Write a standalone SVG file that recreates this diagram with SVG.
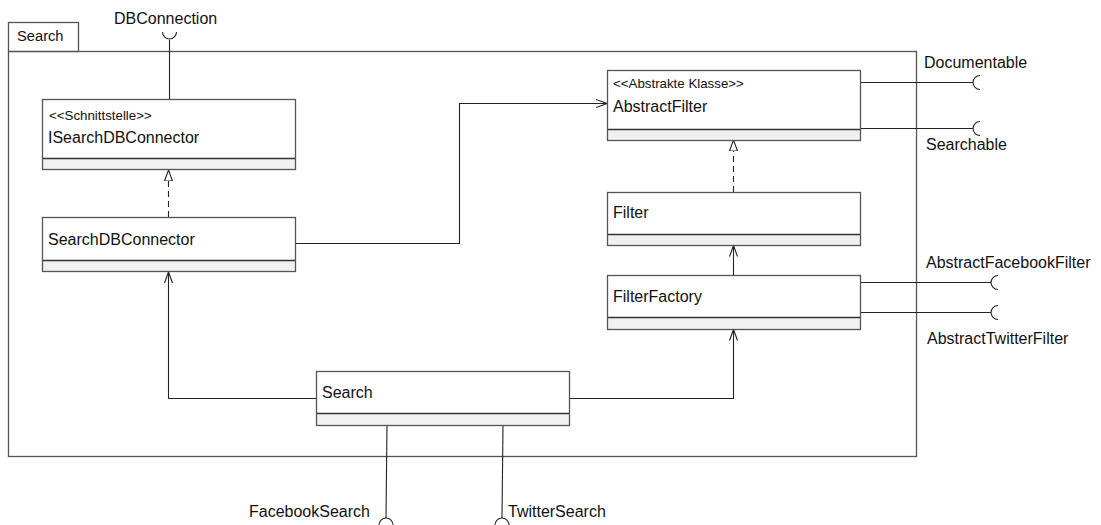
<svg xmlns="http://www.w3.org/2000/svg" width="1101" height="525" viewBox="0 0 1101 525">
<style>
text{font-family:"Liberation Sans",Arial,sans-serif;fill:#111}
.n{font-size:16px}
.s{font-size:13.3px}
.t{font-size:14.7px}
.top{fill:#fff;stroke:none}
.bot{fill:#f0f0f0;stroke:none}
.frame{fill:none;stroke:#555;stroke-width:1.3}
.sep{stroke:#333;stroke-width:1.3}
.c{fill:none;stroke:#222;stroke-width:1.1}
.d{fill:none;stroke:#222;stroke-width:1.1;stroke-dasharray:6 4}
</style>
<defs>
<marker id="open" markerWidth="12" markerHeight="12" refX="11" refY="6" orient="auto" markerUnits="userSpaceOnUse">
<path d="M0,2 L11,6 L0,10" fill="none" stroke="#222" stroke-width="1.1"/>
</marker>
<marker id="tri" markerWidth="13" markerHeight="12" refX="11" refY="6" orient="auto" markerUnits="userSpaceOnUse">
<path d="M0,2 L11,6 L0,10 Z" fill="#fff" stroke="#222" stroke-width="1.1"/>
</marker>
</defs>
<rect width="1101" height="525" fill="#fff"/>

<g id="package">
<rect x="8.5" y="22.5" width="70" height="29" fill="#fff" stroke="#555" stroke-width="1.3"/>
<rect x="8.5" y="51.5" width="908" height="405" fill="none" stroke="#555" stroke-width="1.3"/>
<text class="t" x="17" y="41">Search</text>
</g>

<g id="connectors">
<!-- DBConnection -->
<line class="c" x1="169.5" y1="40" x2="169.5" y2="99"/>
<path class="c" d="M162.5,32 A7,7 0 0 0 176.5,32"/>
<!-- realization SearchDBConnector -> ISearchDBConnector -->
<line class="d" x1="168.5" y1="217" x2="168.5" y2="170" marker-end="url(#tri)"/>
<!-- SearchDBConnector -> AbstractFilter -->
<polyline class="c" points="295,243.5 459.5,243.5 459.5,103.5 607,103.5" marker-end="url(#open)"/>
<!-- Filter -> AbstractFilter realization -->
<line class="d" x1="733.5" y1="192" x2="733.5" y2="140" marker-end="url(#tri)"/>
<!-- FilterFactory -> Filter -->
<line class="c" x1="733.5" y1="275" x2="733.5" y2="245.5" marker-end="url(#open)"/>
<!-- Search -> SearchDBConnector -->
<polyline class="c" points="316,398.5 168.5,398.5 168.5,272" marker-end="url(#open)"/>
<!-- Search -> FilterFactory -->
<polyline class="c" points="569,398.5 733.5,398.5 733.5,329.5" marker-end="url(#open)"/>
<!-- Documentable / Searchable -->
<line class="c" x1="860" y1="82.5" x2="973" y2="82.5"/>
<path class="c" d="M980,75.5 A7,7 0 0 0 980,89.5"/>
<line class="c" x1="860" y1="128.5" x2="973" y2="128.5"/>
<path class="c" d="M980,121.5 A7,7 0 0 0 980,135.5"/>
<!-- AbstractFacebookFilter / AbstractTwitterFilter -->
<line class="c" x1="860" y1="282.5" x2="991" y2="282.5"/>
<path class="c" d="M998,275.5 A7,7 0 0 0 998,289.5"/>
<line class="c" x1="860" y1="312.5" x2="991" y2="312.5"/>
<path class="c" d="M998,305.5 A7,7 0 0 0 998,319.5"/>
<!-- FacebookSearch / TwitterSearch -->
<line class="c" x1="387" y1="425" x2="386" y2="518"/>
<path class="c" d="M379,525 A7,7 0 0 1 393,525"/>
<line class="c" x1="503" y1="425" x2="502" y2="518"/>
<path class="c" d="M495,525 A7,7 0 0 1 509,525"/>
</g>

<g id="labels">
<text class="n" x="114" y="24">DBConnection</text>
<text class="n" x="924" y="68">Documentable</text>
<text class="n" x="926" y="150">Searchable</text>
<text class="n" x="926" y="268">AbstractFacebookFilter</text>
<text class="n" x="927" y="344">AbstractTwitterFilter</text>
<text class="n" x="249" y="517">FacebookSearch</text>
<text class="n" x="508" y="517">TwitterSearch</text>
</g>

<g id="ISearchDBConnector">
<rect class="top" x="42.5" y="99.5" width="253" height="59"/>
<rect class="bot" x="42.5" y="158.5" width="253" height="11"/>
<line class="sep" x1="42.5" y1="158.5" x2="295.5" y2="158.5"/>
<rect class="frame" x="42.5" y="99.5" width="253" height="70"/>
<text class="s" x="49" y="120">&lt;&lt;Schnittstelle&gt;&gt;</text>
<text class="n" x="48" y="143">ISearchDBConnector</text>
</g>

<g id="SearchDBConnector">
<rect class="top" x="42.5" y="217.5" width="253" height="43"/>
<rect class="bot" x="42.5" y="260.5" width="253" height="11"/>
<line class="sep" x1="42.5" y1="260.5" x2="295.5" y2="260.5"/>
<rect class="frame" x="42.5" y="217.5" width="253" height="54"/>
<text class="n" x="48" y="245">SearchDBConnector</text>
</g>

<g id="AbstractFilter">
<rect class="top" x="607.5" y="70.5" width="253" height="59"/>
<rect class="bot" x="607.5" y="129.5" width="253" height="11"/>
<line class="sep" x1="607.5" y1="129.5" x2="860.5" y2="129.5"/>
<rect class="frame" x="607.5" y="70.5" width="253" height="70"/>
<text class="s" x="613" y="88">&lt;&lt;Abstrakte Klasse&gt;&gt;</text>
<text class="n" x="613" y="112">AbstractFilter</text>
</g>

<g id="Filter">
<rect class="top" x="607.5" y="192.5" width="253" height="42"/>
<rect class="bot" x="607.5" y="234.5" width="253" height="11"/>
<line class="sep" x1="607.5" y1="234.5" x2="860.5" y2="234.5"/>
<rect class="frame" x="607.5" y="192.5" width="253" height="53"/>
<text class="n" x="613" y="218">Filter</text>
</g>

<g id="FilterFactory">
<rect class="top" x="607.5" y="275.5" width="253" height="42"/>
<rect class="bot" x="607.5" y="317.5" width="253" height="12"/>
<line class="sep" x1="607.5" y1="317.5" x2="860.5" y2="317.5"/>
<rect class="frame" x="607.5" y="275.5" width="253" height="54"/>
<text class="n" x="613" y="302">FilterFactory</text>
</g>

<g id="Search">
<rect class="top" x="316.5" y="371.5" width="253" height="42"/>
<rect class="bot" x="316.5" y="413.5" width="253" height="12"/>
<line class="sep" x1="316.5" y1="413.5" x2="569.5" y2="413.5"/>
<rect class="frame" x="316.5" y="371.5" width="253" height="54"/>
<text class="n" x="322" y="398">Search</text>
</g>
</svg>
